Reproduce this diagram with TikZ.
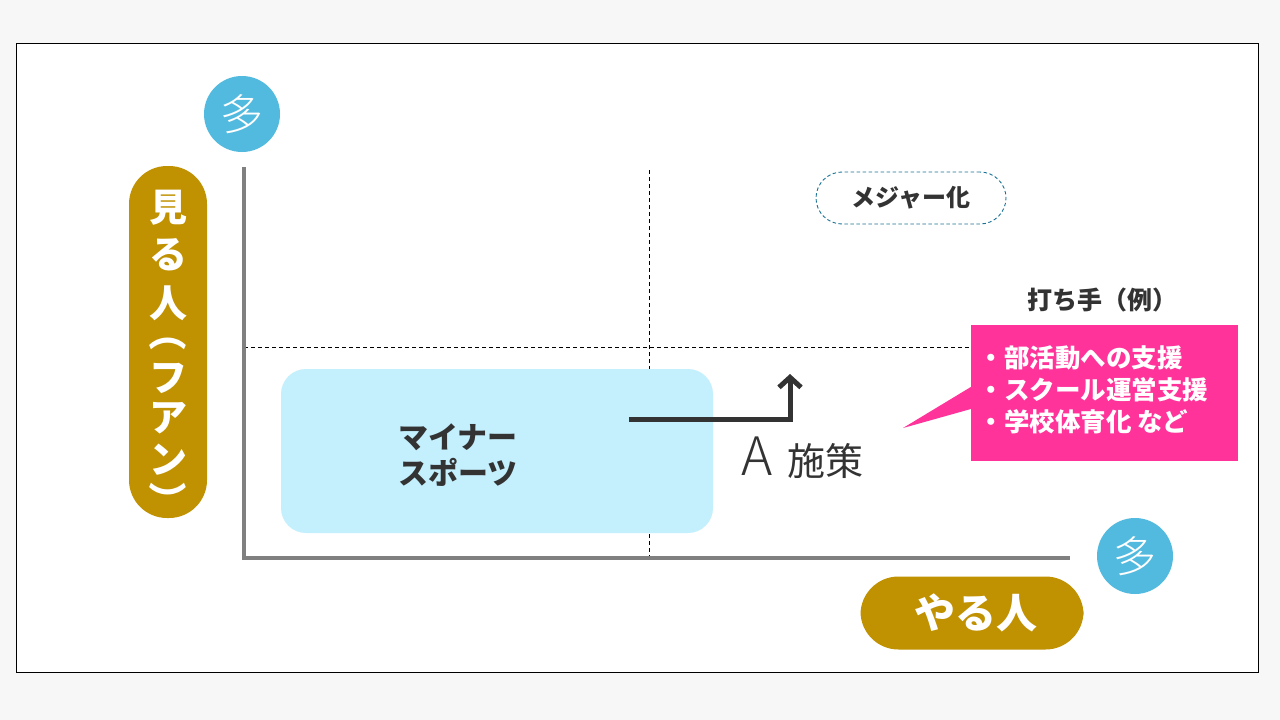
\documentclass[tikz,border=0pt]{standalone}
\usepackage{fontspec}
\setmainfont{Noto Sans CJK JP}
\newfontfamily\jp{Noto Sans CJK JP}
\newfontfamily\jplight{Noto Sans CJK JP Light}
\usetikzlibrary{arrows.meta}
\definecolor{pagegray}{HTML}{F7F7F7}
\definecolor{gold}{HTML}{C09100}
\definecolor{sky}{HTML}{52BADF}
\definecolor{paleblue}{HTML}{C4EFFD}
\definecolor{hotpink}{HTML}{FF3399}
\definecolor{ink}{HTML}{333333}
\definecolor{tealline}{HTML}{1A7396}
\definecolor{axisgray}{HTML}{808080}

\tikzset{
  axis/.style={draw=axisgray, line width=3.5pt},
  guide/.style={draw=black, line width=0.6pt, dash pattern=on 4pt off 3pt},
  pill/.style={fill=gold, text=white, rounded corners=38pt, inner sep=0pt},
  viewchar/.style={text=white, inner sep=0pt, font=\jp\bfseries\fontsize{38}{38}\selectfont},
  many/.style={circle, fill=sky, text=white, minimum size=76pt, inner sep=0pt,
    font=\jplight\fontsize{43}{43}\selectfont},
  flow/.style={draw=ink, line width=5pt, -{Straight Barb[length=10pt,width=22pt]}},
}

\begin{document}
\begin{tikzpicture}[x=1pt, y=-1pt]
      % page and frame
      \fill[pagegray] (0, 0) rectangle (1280, 720);
      \draw[fill=white, line width=0.8pt] (16, 43) rectangle (1258, 672);
      % quadrant guides
      \draw[guide] (649, 170) -- (649, 558);
      \draw[guide] (244, 347) -- (971, 347);
      % minor sports area
      \node[fill=paleblue, rounded corners=25pt, minimum width=432pt, minimum height=164pt,
        inner sep=0pt] (minor) at (497, 451) {};
      \node[text=ink, align=left, font=\jp\bfseries\fontsize{30}{36}\selectfont]
        (minorlabel) at (458, 455) {マイナー\\スポーツ};
      % axes
      \coordinate (origin) at (244, 558);
      \coordinate (ytop) at (244, 167);
      \coordinate (xend) at (1070, 558);
      \draw[axis] (ytop) -- (origin) -- (xend);
      \node[many] (manytop) at (242, 114) {多};
      \node[many] (manyright) at (1135, 556) {多};
      % vertical axis label
      \node[pill, minimum width=78pt, minimum height=352pt] (viewers) at (168, 342) {};
      \foreach \ch/\yy/\rot [count=\i] in {見/208/0, る/255/0, 人/303/0, （/332/-90,
          フ/378/0, ア/418/0, ン/460/0, ）/500/-90}
        \node[viewchar, rotate=\rot] (viewch\i) at (168, \yy) {\ch};
      % horizontal axis label
      \node[pill, minimum width=223pt, minimum height=73pt,
        font=\jp\bfseries\fontsize{41}{41}\selectfont] (players) at (972, 613)
        {\hspace*{8pt}やる人};
      % measure A
      \coordinate (flowstart) at (629, 419);
      \coordinate (flowend) at (790, 374);
      \draw[flow] (flowstart) -| (flowend);
      \node[anchor=base west, inner sep=0pt, text=ink, font=\jp\fontsize{38}{38}\selectfont]
        (measure) at (741, 475)
        {{\jplight\fontsize{53}{53}\selectfont A}\hspace{15pt}施策};
      % goal
      \node[draw=tealline, line width=0.9pt, dash pattern=on 3.5pt off 2.5pt,
        rounded corners=26pt, minimum width=190pt,
        minimum height=52pt, text=ink, font=\jp\bfseries\fontsize{24}{24}\selectfont]
        (major) at (911, 198) {メジャー化};
      % examples callout
      \node[text=ink, font=\jp\bfseries\fontsize{25}{25}\selectfont] (tipstitle) at (1102, 300)
        {打ち手（例）};
      \node[fill=hotpink, minimum width=267pt, minimum height=136pt, inner sep=0pt]
        (tips) at (1104.5, 393) {};
      \coordinate (callouttip) at (903, 428);
      \fill[hotpink] ([yshift=6pt]tips.west) -- (callouttip) -- ([yshift=-16pt]tips.west) -- cycle;
      \node[anchor=west, text=white, align=left, font=\jp\bfseries\fontsize{25.5}{32}\selectfont]
        (tipslist) at (975, 390)
        {・部活動への支援\\・スクール運営支援\\・学校体育化 など};
    \end{tikzpicture}
\end{document}
